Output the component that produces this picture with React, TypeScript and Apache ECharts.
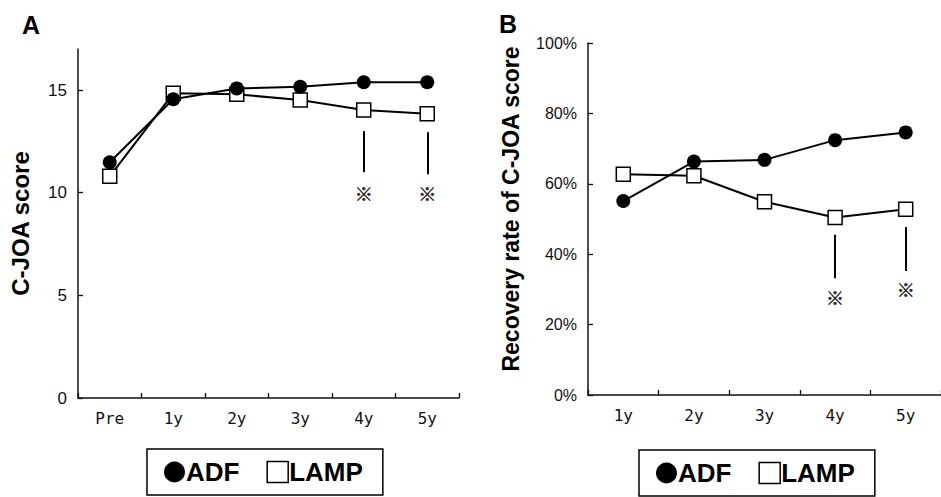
import { useEffect, useRef } from "react";
import * as echarts from "echarts";

const categoriesA = ["Pre", "1y", "2y", "3y", "4y", "5y"];
const adfA = [11.48, 14.55, 15.08, 15.16, 15.38, 15.38];
const lampA = [10.8, 14.84, 14.79, 14.52, 14.03, 13.85];
const yTicksA = [0, 5, 10, 15];

const categoriesB = ["1y", "2y", "3y", "4y", "5y"];
const adfB = [55.1, 66.3, 66.8, 72.4, 74.6];
const lampB = [62.7, 62.3, 54.9, 50.4, 52.8];

// significance annotations: [category, line top, line bottom]
const sigLinesA: [string, number, number][] = [
  ["4y", 13.0, 11.0],
  ["5y", 12.95, 10.9],
];
const sigMarksA: [string, number][] = [
  ["4y", 10.0],
  ["5y", 10.0],
];
const sigLinesB: [string, number, number][] = [
  ["4y", 45.5, 33.2],
  ["5y", 47.7, 35.2],
];
const sigMarksB: [string, number][] = [
  ["4y", 27.8],
  ["5y", 30.1],
];

const SANS = "Liberation Sans, Arial, Helvetica, sans-serif";
const MONO = "DejaVu Sans Mono, Liberation Mono, monospace";
const MARK_FONT = "Noto Sans CJK JP, sans-serif";

export default function App() {
  const ref = useRef<HTMLDivElement>(null);
  useEffect(() => {
    if (!ref.current) return;
    const chart = echarts.init(ref.current, undefined, { renderer: "svg" });

    const axisLine = { show: true, lineStyle: { color: "#111", width: 1.5 } };
    const tick = { show: true, inside: true, length: 5, lineStyle: { color: "#111", width: 1.3 } };

    const lineSeries = (name: string, data: number[], idx: number, filled: boolean) => ({
      name,
      type: "line",
      xAxisIndex: idx,
      yAxisIndex: idx,
      data,
      symbol: filled ? "circle" : "rect",
      symbolSize: 14,
      z: filled ? 4 : 3,
      lineStyle: { color: "#000", width: 2 },
      itemStyle: filled
        ? { color: "#000", borderColor: "#000", borderWidth: 0 }
        : { color: "#fff", borderColor: "#000", borderWidth: 1.5 },
    });

    const sigSeries = (
      idx: number,
      marks: [string, number][],
      lines: [string, number, number][]
    ) => ({
      name: "sig" + idx,
      type: "scatter",
      xAxisIndex: idx,
      yAxisIndex: idx,
      data: marks,
      symbol: "circle",
      symbolSize: 0,
      silent: true,
      itemStyle: { color: "#000" },
      label: {
        show: true,
        position: "inside",
        formatter: "※",
        fontFamily: MARK_FONT,
        fontWeight: "bold",
        fontSize: 18,
        color: "#000",
        textBorderWidth: 0.6,
        textBorderColor: "#000",
      },
      markLine: {
        silent: true,
        symbol: ["none", "none"],
        label: { show: false },
        lineStyle: { color: "#000", width: 2, type: "solid" },
        data: lines.map(([c, top, bottom]) => [
          { coord: [c, top] },
          { coord: [c, bottom] },
        ]),
      },
    });

    const legendCfg = (left: number, top: number) => ({
      left,
      top,
      orient: "horizontal",
      padding: [9, 20, 9, 17],
      itemGap: 27,
      itemWidth: 21,
      itemHeight: 21,
      borderColor: "#000",
      borderWidth: 1.5,
      selectedMode: false,
      textStyle: {
        fontFamily: SANS,
        fontWeight: "bold",
        fontSize: 26,
        color: "#000",
        lineHeight: 28,
        padding: [0, 0, 0, -4],
      },
      data: [
        { name: "ADF", icon: "circle", itemStyle: { color: "#000", borderWidth: 0 } },
        {
          name: "LAMP",
          icon: "rect",
          itemStyle: { color: "#fff", borderColor: "#000", borderWidth: 1.5 },
        },
      ],
    });

    chart.setOption({
      animation: false,
      backgroundColor: "#fff",
      graphic: [
        {
          type: "text",
          left: 22,
          top: 12,
          style: { text: "A", fontFamily: SANS, fontWeight: "bold", fontSize: 25, fill: "#000" },
        },
        {
          type: "text",
          left: 499,
          top: 11,
          style: { text: "B", fontFamily: SANS, fontWeight: "bold", fontSize: 25, fill: "#000" },
        },
      ],
      legend: [legendCfg(147, 449), legendCfg(639, 450)],
      grid: [
        { left: 78, top: 49, width: 381, height: 349 },
        { left: 588, top: 43, width: 360, height: 352 },
      ],
      xAxis: [
        {
          type: "category",
          gridIndex: 0,
          data: categoriesA,
          boundaryGap: true,
          axisLine,
          axisTick: tick,
          axisLabel: { fontFamily: MONO, fontSize: 16, color: "#111", margin: 12 },
        },
        {
          type: "category",
          gridIndex: 1,
          data: categoriesB,
          boundaryGap: true,
          axisLine,
          axisTick: tick,
          axisLabel: { fontFamily: MONO, fontSize: 16, color: "#111", margin: 12 },
        },
      ],
      yAxis: [
        {
          type: "value",
          gridIndex: 0,
          min: 0,
          max: 17,
          interval: 5,
          axisLine,
          axisTick: { ...tick, customValues: yTicksA },
          splitLine: { show: false },
          axisLabel: {
            fontFamily: SANS,
            fontSize: 17,
            color: "#111",
            margin: 11,
            customValues: yTicksA,
          },
          name: "C-JOA score",
          nameLocation: "middle",
          nameRotate: 90,
          nameGap: 46,
          nameTextStyle: { fontFamily: SANS, fontWeight: "bold", fontSize: 24, color: "#000" },
        },
        {
          type: "value",
          gridIndex: 1,
          min: 0,
          max: 100,
          interval: 20,
          axisLine,
          axisTick: tick,
          splitLine: { show: false },
          axisLabel: {
            fontFamily: SANS,
            fontSize: 16,
            color: "#111",
            margin: 11,
            formatter: "{value}%",
          },
          name: "Recovery rate of C-JOA score",
          nameLocation: "middle",
          nameRotate: 90,
          nameGap: 66,
          nameTextStyle: {
            fontFamily: SANS,
            fontWeight: "bold",
            fontSize: 23,
            color: "#000",
            padding: [0, 0, 0, 20],
          },
        },
      ],
      series: [
        lineSeries("LAMP", lampA, 0, false),
        lineSeries("ADF", adfA, 0, true),
        lineSeries("LAMP", lampB, 1, false),
        lineSeries("ADF", adfB, 1, true),
        sigSeries(0, sigMarksA, sigLinesA),
        sigSeries(1, sigMarksB, sigLinesB),
      ],
    });
    return () => chart.dispose();
  }, []);
  return (
    <div
      ref={ref}
      style={{ position: "fixed", left: 0, top: 0, width: 941, height: 497, background: "#fff" }}
    />
  );
}
